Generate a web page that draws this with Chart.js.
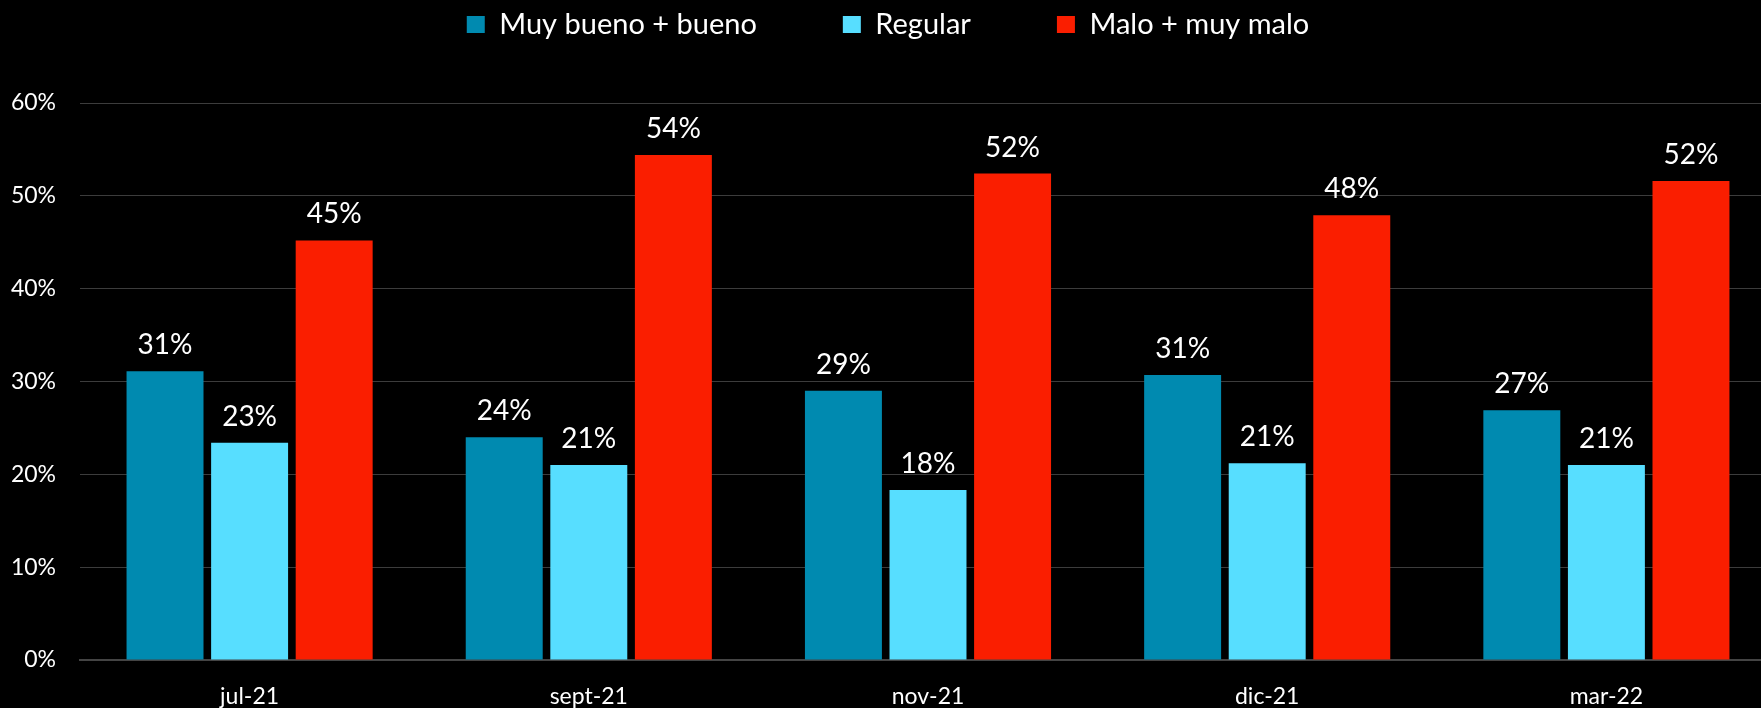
<!DOCTYPE html>
<html>
<head>
<meta charset="utf-8">
<script src="https://cdn.jsdelivr.net/npm/chart.js@4/dist/chart.umd.min.js"></script>
<style>
  html, body { margin: 0; padding: 0; background: #000; overflow: hidden; width: 1761px; height: 708px; }
  canvas { display: block; }
</style>
</head>
<body>
<canvas id="c" width="1776" height="708"></canvas>
<script>
const categories = ['jul-21', 'sept-21', 'nov-21', 'dic-21', 'mar-22'];
const seriesNames = ['Muy bueno + bueno', 'Regular', 'Malo + muy malo'];
const muyBuenoBueno = [31.1, 24.0, 29.0, 30.7, 26.9];
const regular = [23.4, 21.0, 18.3, 21.2, 21.0];
const maloMuyMalo = [45.2, 54.4, 52.4, 47.9, 51.6];
const yTicks = [0, 10, 20, 30, 40, 50, 60];
const colors = ['#008AB0', '#57DEFF', '#FA1E00'];

const FONT = 'Lato, "Open Sans", sans-serif';

const dataLabelPlugin = {
  id: 'dataLabels',
  afterDatasetsDraw(chart) {
    const ctx = chart.ctx;
    ctx.save();
    ctx.fillStyle = '#FFFFFF';
    ctx.font = '28px ' + FONT;
    ctx.textAlign = 'center';
    ctx.textBaseline = 'bottom';
    chart.data.datasets.forEach((ds, di) => {
      const meta = chart.getDatasetMeta(di);
      meta.data.forEach((el, i) => {
        ctx.fillText(Math.round(ds.data[i]) + '%', el.x, el.y - 12);
      });
    });
    ctx.restore();
  }
};

const legendSpacingPlugin = {
  id: 'legendSpacing',
  afterInit(chart) {
    const leg = chart.legend;
    if (!leg) return;
    const fit = leg.fit.bind(leg);
    leg.fit = function () { fit(); this.height = 103; };
    const draw = leg.draw.bind(leg);
    leg.draw = function () {
      const t = this.top;
      this.top = t - 76;
      draw();
      this.top = t;
    };
  }
};

new Chart(document.getElementById('c'), {
  type: 'bar',
  data: {
    labels: categories,
    datasets: [
      { label: seriesNames[0], data: muyBuenoBueno, backgroundColor: colors[0] },
      { label: seriesNames[1], data: regular, backgroundColor: colors[1] },
      { label: seriesNames[2], data: maloMuyMalo, backgroundColor: colors[2] }
    ]
  },
  options: {
    responsive: false,
    animation: false,
    devicePixelRatio: 1,
    layout: { padding: 0 },
    datasets: { bar: { categoryPercentage: 0.748, barPercentage: 0.91 } },
    plugins: {
      legend: {
        position: 'top',
        labels: {
          color: '#FFFFFF',
          font: { family: FONT, size: 29 },
          boxWidth: 18,
          boxHeight: 17,
          padding: 86
        }
      },
      tooltip: { enabled: false }
    },
    scales: {
      x: {
        grid: { display: false, drawTicks: false },
        border: { display: true, color: '#444444', width: 2 },
        ticks: { color: '#FFFFFF', font: { family: FONT, size: 23 }, padding: 23, maxRotation: 0 },
        afterFit(s) { s.height = 48; }
      },
      y: {
        min: 0,
        max: 60,
        afterBuildTicks(s) { s.ticks = yTicks.map(v => ({ value: v })); },
        grid: { color: '#3C3C3C', lineWidth: 1, drawTicks: false },
        border: { display: false },
        ticks: {
          color: '#FFFFFF',
          font: { family: FONT, size: 23 },
          padding: 24,
          callback: v => v + '%'
        },
        afterFit(s) { s.width = 80; }
      }
    }
  },
  plugins: [dataLabelPlugin, legendSpacingPlugin]
});
</script>
</body>
</html>
